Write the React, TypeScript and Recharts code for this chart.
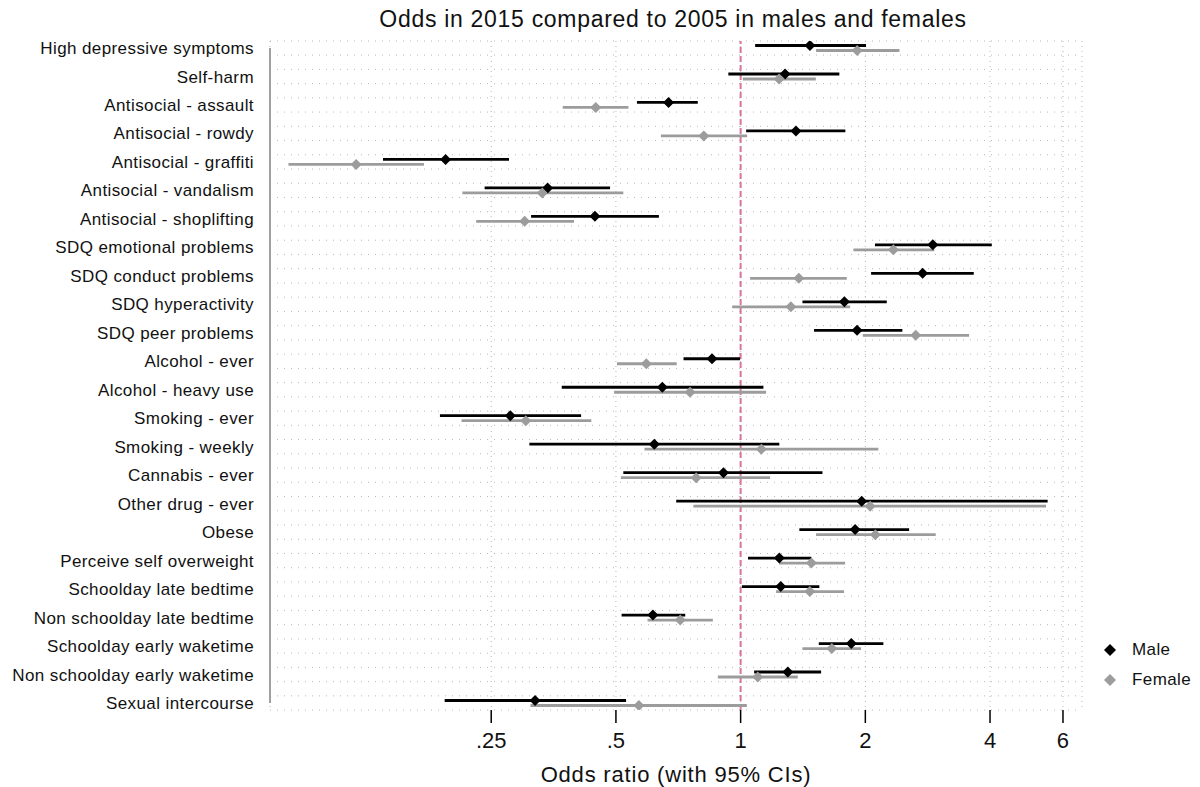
import React from 'react';
import {
  ComposedChart,
  Scatter,
  XAxis,
  YAxis,
  CartesianGrid,
  ErrorBar,
  ReferenceLine,
  Legend,
  Label,
} from 'recharts';

const categories = [
  'High depressive symptoms',
  'Self-harm',
  'Antisocial - assault',
  'Antisocial - rowdy',
  'Antisocial - graffiti',
  'Antisocial - vandalism',
  'Antisocial - shoplifting',
  'SDQ emotional problems',
  'SDQ conduct problems',
  'SDQ hyperactivity',
  'SDQ peer problems',
  'Alcohol - ever',
  'Alcohol - heavy use',
  'Smoking - ever',
  'Smoking - weekly',
  'Cannabis - ever',
  'Other drug - ever',
  'Obese',
  'Perceive self overweight',
  'Schoolday late bedtime',
  'Non schoolday late bedtime',
  'Schoolday early waketime',
  'Non schoolday early waketime',
  'Sexual intercourse',
];

const maleOR = [1.47, 1.28, 0.67, 1.36, 0.194, 0.342, 0.445, 2.91, 2.75, 1.78, 1.91, 0.853, 0.647, 0.278, 0.619, 0.909, 1.96, 1.89, 1.24, 1.25, 0.614, 1.85, 1.3, 0.319];
const maleLo = [1.084, 0.934, 0.562, 1.031, 0.137, 0.241, 0.312, 2.11, 2.065, 1.41, 1.504, 0.728, 0.37, 0.188, 0.309, 0.521, 0.699, 1.386, 1.042, 1.007, 0.516, 1.544, 1.078, 0.193];
const maleHi = [2.008, 1.731, 0.788, 1.79, 0.276, 0.484, 0.635, 4.04, 3.654, 2.253, 2.457, 0.997, 1.135, 0.412, 1.24, 1.576, 5.51, 2.551, 1.482, 1.549, 0.735, 2.211, 1.564, 0.529];

const femaleOR = [1.911, 1.238, 0.447, 0.815, 0.118, 0.332, 0.301, 2.337, 1.382, 1.322, 2.647, 0.592, 0.755, 0.303, 1.122, 0.781, 2.054, 2.115, 1.482, 1.469, 0.715, 1.66, 1.1, 0.568];
const femaleLo = [1.521, 1.012, 0.372, 0.642, 0.081, 0.213, 0.23, 1.872, 1.054, 0.954, 1.972, 0.503, 0.495, 0.212, 0.586, 0.514, 0.769, 1.521, 1.238, 1.218, 0.596, 1.41, 0.881, 0.311];
const femaleHi = [2.417, 1.519, 0.536, 1.037, 0.172, 0.521, 0.396, 2.935, 1.804, 1.838, 3.56, 0.701, 1.152, 0.436, 2.15, 1.178, 5.46, 2.958, 1.787, 1.777, 0.857, 1.953, 1.374, 1.035];

const xTicks = [0.25, 0.5, 1, 2, 4, 6];
const xTickLabels = ['.25', '.5', '1', '2', '4', '6'];
const seriesNames = ['Male', 'Female'];

const FONT = '"Liberation Sans", Arial, Helvetica, sans-serif';
const MALE_COLOR = '#000000';
const FEMALE_COLOR = '#9c9c9c';

const maleData = categories.map((c, i) => ({
  name: c,
  row: i,
  or: maleOR[i],
  err: [maleOR[i] - maleLo[i], maleHi[i] - maleOR[i]],
}));
const femaleData = categories.map((c, i) => ({
  name: c,
  row: i,
  or: femaleOR[i],
  err: [femaleOR[i] - femaleLo[i], femaleHi[i] - femaleOR[i]],
}));

const rowTicks = categories.map((_, i) => i);
const gridTicks = categories.flatMap((_, i) => [i + 0.25, i + 0.75]).slice(0, -2);

// axis domains
const X_DOMAIN: [number, number] = [0.0731, 6.669];
const ROW_DOMAIN: [number, number] = [-0.2458, 23.246];
const M_DOMAIN: [number, number] = [-0.158, 23.334];
const F_DOMAIN: [number, number] = [-0.3336, 23.158];

const makeDiamond = (color: string, r: number) => (props: any) => {
  const { cx, cy } = props;
  if (cx == null || cy == null) return <g />;
  return (
    <polygon
      points={`${cx},${cy - r} ${cx + r},${cy} ${cx},${cy + r} ${cx - r},${cy}`}
      fill={color}
    />
  );
};

const renderLegend = (props: any) => {
  const payload = [...(props.payload || [])].sort(
    (a: any, b: any) => seriesNames.indexOf(a.value) - seriesNames.indexOf(b.value)
  );
  return (
    <div style={{ display: 'flex', flexDirection: 'column', fontFamily: FONT }}>
      {payload.map((entry: any) => (
        <div
          key={entry.value}
          style={{ display: 'flex', alignItems: 'center', height: 30 }}
        >
          <svg width={14} height={14} style={{ display: 'block' }}>
            <polygon points="7,1 13,7 7,13 1,7" fill={entry.color} />
          </svg>
          <span
            style={{
              marginLeft: 15,
              fontSize: 17,
              letterSpacing: 0.4,
              color: '#111',
            }}
          >
            {entry.value}
          </span>
        </div>
      ))}
    </div>
  );
};

export default function App() {
  return (
    <div style={{ position: 'relative', width: 1200, height: 787, background: '#fff' }}>
      <style>{`body{margin:0;background:#fff;}`}</style>
      <div
        style={{
          position: 'absolute',
          left: 273,
          top: 8,
          width: 800,
          textAlign: 'center',
          fontFamily: FONT,
          fontSize: 23,
          lineHeight: '23px',
          letterSpacing: 0.7,
          color: '#111',
          zIndex: 2,
        }}
      >
        Odds in 2015 compared to 2005 in males and females
      </div>
      <ComposedChart
        width={1200}
        height={787}
        margin={{ top: 41, right: 118, bottom: 0, left: 0 }}
        style={{ fontFamily: FONT }}
      >
        <XAxis
          xAxisId="x"
          type="number"
          dataKey="or"
          scale="log"
          domain={X_DOMAIN}
          allowDataOverflow
          ticks={xTicks}
          tickFormatter={(v: number) => xTickLabels[xTicks.indexOf(v)] ?? String(v)}
          axisLine={false}
          tickLine={{ stroke: '#000', strokeWidth: 1.5 }}
          tickSize={13}
          tickMargin={9}
          height={77}
          tick={{ fontSize: 22, fill: '#111', fontFamily: FONT }}
        >
          <Label
            value="Odds ratio (with 95% CIs)"
            position="insideBottom"
            offset={5}
            style={{ fontSize: 22, fill: '#111', fontFamily: FONT, letterSpacing: 0.8 }}
          />
        </XAxis>
        <YAxis
          yAxisId="row"
          type="number"
          domain={ROW_DOMAIN}
          allowDataOverflow
          reversed
          ticks={rowTicks}
          interval={0}
          tickFormatter={(v: number) => categories[v] ?? ''}
          axisLine={false}
          tickLine={false}
          tickSize={0}
          tickMargin={16}
          width={270}
          tick={{ fontSize: 17, fill: '#111', fontFamily: FONT, letterSpacing: 0.4 }}
        />
        <YAxis yAxisId="m" type="number" dataKey="row" domain={M_DOMAIN} allowDataOverflow reversed hide width={0} />
        <YAxis yAxisId="f" type="number" dataKey="row" domain={F_DOMAIN} allowDataOverflow reversed hide width={0} />
        <YAxis
          yAxisId="grid"
          type="number"
          domain={ROW_DOMAIN}
          allowDataOverflow
          reversed
          ticks={gridTicks}
          interval={0}
          hide
          width={0}
        />
        <CartesianGrid
          xAxisId="x"
          yAxisId="grid"
          vertical={false}
          stroke="#b8b8b8"
          strokeDasharray="1 6"
        />
        <CartesianGrid
          xAxisId="x"
          yAxisId="grid"
          horizontal={false}
          stroke="#b8b8b8"
          strokeDasharray="1 4"
        />
        <ReferenceLine
          xAxisId="x"
          yAxisId="row"
          x={1}
          stroke="#d9749f"
          strokeWidth={2}
          strokeDasharray="6 3"
          ifOverflow="visible"
        />
        <ReferenceLine
          xAxisId="x"
          yAxisId="row"
          segment={[
            { x: X_DOMAIN[0], y: 0 },
            { x: X_DOMAIN[0], y: categories.length - 1 },
          ]}
          stroke="#a0a0a0"
          strokeWidth={2}
          ifOverflow="visible"
        />
        <Scatter
          name="Male"
          data={maleData}
          xAxisId="x"
          yAxisId="m"
          dataKey="or"
          fill={MALE_COLOR}
          shape={makeDiamond(MALE_COLOR, 5.5)}
          isAnimationActive={false}
        >
          <ErrorBar
            dataKey="err"
            direction="x"
            width={0}
            stroke={MALE_COLOR}
            strokeWidth={2.8}
          />
        </Scatter>
        <Scatter
          name="Female"
          data={femaleData}
          xAxisId="x"
          yAxisId="f"
          dataKey="or"
          fill={FEMALE_COLOR}
          shape={makeDiamond(FEMALE_COLOR, 5.5)}
          isAnimationActive={false}
        >
          <ErrorBar
            dataKey="err"
            direction="x"
            width={0}
            stroke={FEMALE_COLOR}
            strokeWidth={2.8}
          />
        </Scatter>
        <Legend
          layout="horizontal"
          verticalAlign="middle"
          align="center"
          content={renderLegend}
          wrapperStyle={{ left: 1103, top: 635, width: 97 }}
        />
      </ComposedChart>
    </div>
  );
}
